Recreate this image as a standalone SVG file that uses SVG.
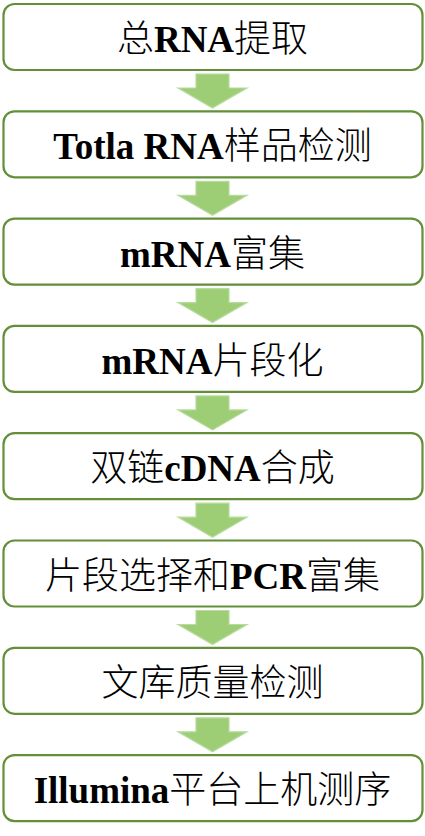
<svg xmlns="http://www.w3.org/2000/svg" width="425" height="836" viewBox="0 0 425 836">
<style>
.box{fill:#ffffff;stroke:#628f37;stroke-width:2.2}
.arr{fill:#9dcd74;stroke:#b8dba0;stroke-width:1.2}
.t{font-size:37px;fill:#000;text-anchor:middle}
.l{font-family:"Liberation Serif",serif;font-weight:bold}
.c{font-family:"Noto Sans CJK SC",sans-serif;font-weight:300}
</style>
<defs>
<path id="ar" d="M196,4 H229 V18 H247 L212.5,38 L178,18 H196 Z"/>
</defs>
<rect width="425" height="836" fill="#ffffff"/>
<g id="connectors">
<use href="#ar" class="arr" transform="translate(0,70)"/>
<use href="#ar" class="arr" transform="translate(0,177.3)"/>
<use href="#ar" class="arr" transform="translate(0,284.6)"/>
<use href="#ar" class="arr" transform="translate(0,391.9)"/>
<use href="#ar" class="arr" transform="translate(0,499.2)"/>
<use href="#ar" class="arr" transform="translate(0,606.5)"/>
<use href="#ar" class="arr" transform="translate(0,713.8)"/>
</g>
<g id="n1"><rect class="box" x="3.5" y="4" width="419" height="66" rx="11"/><text class="t" x="212.5" y="52"><tspan class="c">总</tspan><tspan class="l">RNA</tspan><tspan class="c">提取</tspan></text></g>
<g id="n2"><rect class="box" x="3.5" y="111.3" width="419" height="66" rx="11"/><text class="t" x="212.5" y="159.3"><tspan class="l">Totla RNA</tspan><tspan class="c">样品检测</tspan></text></g>
<g id="n3"><rect class="box" x="3.5" y="218.6" width="419" height="66" rx="11"/><text class="t" x="212.5" y="266.6"><tspan class="l">mRNA</tspan><tspan class="c">富集</tspan></text></g>
<g id="n4"><rect class="box" x="3.5" y="325.9" width="419" height="66" rx="11"/><text class="t" x="212.5" y="373.9"><tspan class="l">mRNA</tspan><tspan class="c">片段化</tspan></text></g>
<g id="n5"><rect class="box" x="3.5" y="433.2" width="419" height="66" rx="11"/><text class="t" x="212.5" y="481.2"><tspan class="c">双链</tspan><tspan class="l">cDNA</tspan><tspan class="c">合成</tspan></text></g>
<g id="n6"><rect class="box" x="3.5" y="540.5" width="419" height="66" rx="11"/><text class="t" x="212.5" y="588.5"><tspan class="c">片段选择和</tspan><tspan class="l">PCR</tspan><tspan class="c">富集</tspan></text></g>
<g id="n7"><rect class="box" x="3.5" y="647.8" width="419" height="66" rx="11"/><text class="t" x="212.5" y="695.8"><tspan class="c">文库质量检测</tspan></text></g>
<g id="n8"><rect class="box" x="3.5" y="755.1" width="419" height="66" rx="11"/><text class="t" x="212.5" y="803.1"><tspan class="l">Illumina</tspan><tspan class="c">平台上机测序</tspan></text></g>
</svg>
